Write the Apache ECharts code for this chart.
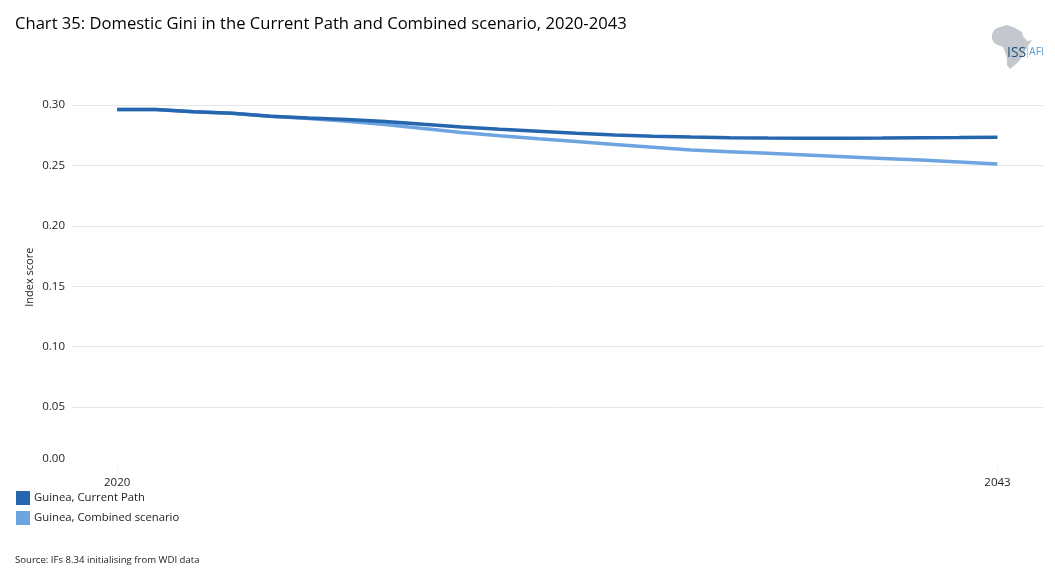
<!DOCTYPE html>
<html>
<head>
<meta charset="utf-8">
<style>
  html, body { margin: 0; padding: 0; background: #fff; }
  #chart { width: 1055px; height: 584px; }
</style>
<script src="https://cdn.jsdelivr.net/npm/echarts@6/dist/echarts.min.js"></script>
</head>
<body>
<div id="chart"></div>
<script>
var years = [2020, 2021, 2022, 2023, 2024, 2025, 2026, 2027, 2028, 2029, 2030, 2031,
  2032, 2033, 2034, 2035, 2036, 2037, 2038, 2039, 2040, 2041, 2042, 2043];
var currentPath = [0.2962, 0.2962, 0.2945, 0.2932, 0.2907, 0.2893, 0.288, 0.2864, 0.284, 0.2818, 0.28, 0.2783,
  0.2766, 0.2752, 0.2742, 0.2735, 0.2729, 0.2726, 0.2725, 0.2725, 0.2726, 0.2729, 0.2731, 0.2734];
var combined = [0.2962, 0.2962, 0.2945, 0.2932, 0.2907, 0.2888, 0.2866, 0.2838, 0.2805, 0.2772, 0.2745, 0.272,
  0.2697, 0.2674, 0.2651, 0.2628, 0.2614, 0.26, 0.2586, 0.2572, 0.2558, 0.2544, 0.2528, 0.2512];
var yearTicks = [2020, 2043];
var names = ["Guinea, Current Path", "Guinea, Combined scenario"];

var font = "'Open Sans', sans-serif";
var dark = "#2566ae";
var light = "#6ea4e0";

function pairs(values) {
  return values.map(function (v, i) { return [years[i], v]; });
}

// africa outline for the logo, in page pixels
var africa = [[992, 34], [995, 29], [1000, 27], [1007, 25], [1013, 27], [1017, 29], [1022, 32], [1023, 36],
  [1027, 41], [1032, 40], [1028, 46], [1025, 51], [1023, 55], [1020, 60], [1015, 65], [1010, 69],
  [1007, 65], [1007, 58], [1005, 52], [1003, 47], [998, 45], [994, 43], [992, 39]];

var chart = echarts.init(document.getElementById("chart"), null, { renderer: "canvas" });
chart.setOption({
  animation: false,
  backgroundColor: "#fff",
  textStyle: { fontFamily: font },
  title: {
    text: "Chart 35: Domestic Gini in the Current Path and Combined scenario, 2020-2043",
    left: 15,
    top: 16,
    padding: 0,
    textStyle: { fontFamily: font, fontSize: 16.6, fontWeight: "normal", color: "#000" }
  },
  legend: {
    orient: "vertical",
    left: 16,
    top: 491,
    padding: 0,
    itemWidth: 14,
    itemHeight: 14,
    itemGap: 6,
    icon: "rect",
    data: names,
    textStyle: { fontFamily: font, fontSize: 11.3, color: "#222", padding: [2, 0, 0, -1] }
  },
  grid: { left: 72, right: 12, top: 105, bottom: 116.5 },
  xAxis: {
    type: "value",
    min: 2018.82,
    max: 2044.19,
    splitLine: { show: false },
    axisLine: { show: false },
    axisTick: { show: true, customValues: yearTicks, length: 4, lineStyle: { color: "#f0f0f0" } },
    axisLabel: {
      customValues: yearTicks,
      formatter: function (v) { return String(Math.round(v)); },
      fontFamily: font,
      fontSize: 11.5,
      color: "#222",
      margin: 9
    }
  },
  yAxis: {
    type: "value",
    min: 0,
    max: 0.3,
    interval: 0.05,
    name: "Index score",
    nameLocation: "middle",
    nameGap: 37,
    nameMoveOverlap: false,
    nameTextStyle: { fontFamily: font, fontSize: 11, color: "#222", padding: [0, 0, 0, 18] },
    axisLine: { show: false },
    axisTick: { show: false },
    splitLine: { show: true, showMinLine: false, lineStyle: { color: "#e6e6e6", width: 1 } },
    axisLabel: {
      formatter: function (v) { return v === 0 ? "{low|0.00}" : v.toFixed(2); },
      rich: { low: { fontFamily: font, fontSize: 11.5, color: "#222", padding: [0, 0, 3, 0] } },
      fontFamily: font,
      fontSize: 11.5,
      color: "#222",
      margin: 7,
      verticalAlignMinLabel: "bottom"
    }
  },
  graphic: [
    { type: "polygon", silent: true, shape: { points: africa }, style: { fill: "#c3c8ce" } },
    { type: "text", silent: true, left: 1007, top: 46, style: { text: "ISS", fill: "#1f4e79", font: "14px 'Open Sans', sans-serif" } },
    { type: "rect", silent: true, shape: { x: 1027, y: 47, width: 1, height: 11 }, style: { fill: "#a9cbe6" } },
    { type: "text", silent: true, left: 1029, top: 47, style: { text: "AFI", fill: "#5b9bd0", font: "10.5px 'Open Sans', sans-serif" } },
    { type: "text", silent: true, left: 15, top: 555, style: { text: "Source: IFs 8.34 initialising from WDI data", fill: "#222", font: "9.6px 'Open Sans', sans-serif" } }
  ],
  series: [
    { name: names[0], type: "line", z: 3, data: pairs(currentPath), showSymbol: false, color: dark, lineStyle: { width: 3.5, color: dark } },
    { name: names[1], type: "line", z: 2, data: pairs(combined), showSymbol: false, color: light, lineStyle: { width: 3.5, color: light } }
  ]
});
</script>
</body>
</html>
